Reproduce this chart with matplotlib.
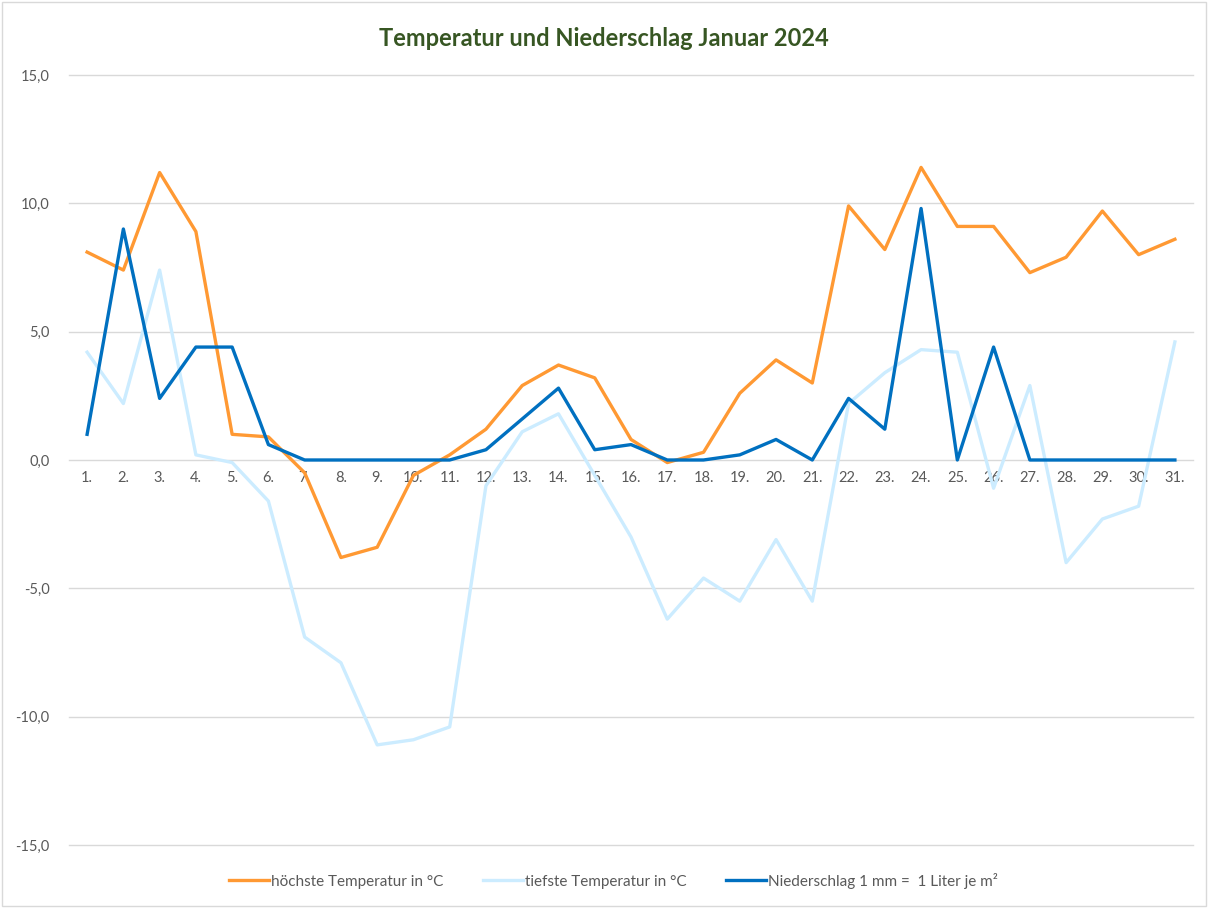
import matplotlib
matplotlib.use('Agg')
import matplotlib.pyplot as plt
from matplotlib.ticker import FuncFormatter
from matplotlib.patches import Rectangle

plt.rcParams['font.family'] = ['Lato', 'DejaVu Sans']

tage = list(range(1, 32))
tag_labels = [f'{d}.' for d in tage]

hoechste = [8.1, 7.4, 11.2, 8.9, 1.0, 0.9, -0.5, -3.8, -3.4, -0.6,
            0.2, 1.2, 2.9, 3.7, 3.2, 0.8, -0.1, 0.3, 2.6, 3.9,
            3.0, 9.9, 8.2, 11.4, 9.1, 9.1, 7.3, 7.9, 9.7, 8.0, 8.6]
tiefste = [4.2, 2.2, 7.4, 0.2, -0.1, -1.6, -6.9, -7.9, -11.1, -10.9,
           -10.4, -1.0, 1.1, 1.8, -0.6, -3.0, -6.2, -4.6, -5.5, -3.1,
           -5.5, 2.2, 3.4, 4.3, 4.2, -1.1, 2.9, -4.0, -2.3, -1.8, 4.6]
niederschlag = [1.0, 9.0, 2.4, 4.4, 4.4, 0.6, 0.0, 0.0, 0.0, 0.0,
                0.0, 0.4, 1.6, 2.8, 0.4, 0.6, 0.0, 0.0, 0.2, 0.8,
                0.0, 2.4, 1.2, 9.8, 0.0, 4.4, 0.0, 0.0, 0.0, 0.0, 0.0]

fig = plt.figure(figsize=(12.08, 9.08), dpi=100)
fig.patches.append(Rectangle((0.002, 0.002), 0.996, 0.996, transform=fig.transFigure,
                             fill=False, edgecolor='#D9D9D9', linewidth=1))
ax = fig.add_axes([0.0571, 0.0694, 0.9305, 0.848])

ax.plot(tage, hoechste, color='#FF9933', lw=2.4, label='höchste Temperatur in °C', solid_joinstyle='round')
ax.plot(tage, tiefste, color='#CCECFF', lw=2.4, label='tiefste Temperatur in °C', solid_joinstyle='round')
ax.plot(tage, niederschlag, color='#0070C0', lw=2.4, label='Niederschlag 1 mm =  1 Liter je m²', solid_joinstyle='round')

ax.set_xlim(0.5, 31.5)
ax.set_ylim(-15, 15)
ax.set_yticks([-15, -10, -5, 0, 5, 10, 15])
ax.yaxis.set_major_formatter(FuncFormatter(lambda v, p: f'{v:.1f}'.replace('.', ',')))
ax.set_xticks(tage)
ax.set_xticklabels(tag_labels)
ax.grid(axis='y', color='#D9D9D9', linewidth=1)
for gl in ax.get_ygridlines():
    gl.set_clip_on(False)
ax.set_axisbelow(True)
for s in ax.spines.values():
    s.set_visible(False)
ax.spines['bottom'].set_position(('data', 0))
ax.tick_params(axis='both', length=0, labelsize=10.5, labelcolor='#595959')
ax.tick_params(axis='x', pad=8)
ax.tick_params(axis='y', pad=14)

fig.text(0.5, 0.958, 'Temperatur und Niederschlag Januar 2024', ha='center', va='center',
         fontsize=17, fontweight='bold', color='#375623')

fig.legend(loc='center', bbox_to_anchor=(0.508, 0.03), ncol=3, frameon=False,
           fontsize=11, labelcolor='#595959', handlelength=2.6, handletextpad=0.15,
           columnspacing=2.6)

fig.savefig('out.png', dpi=100)
